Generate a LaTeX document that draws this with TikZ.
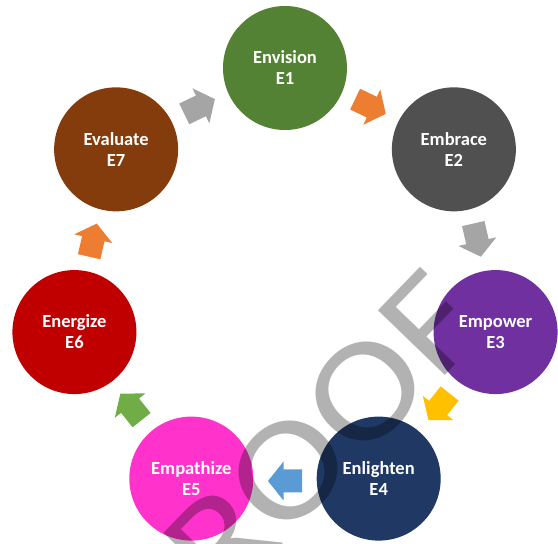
\documentclass[tikz,border=0pt]{standalone}
\usepackage{fontspec}
\setmainfont{Carlito}
\definecolor{cEa}{HTML}{548235}
\definecolor{cEb}{HTML}{505050}
\definecolor{cEc}{HTML}{7030A0}
\definecolor{cEd}{HTML}{1F3864}
\definecolor{cEe}{HTML}{FF33CC}
\definecolor{cEf}{HTML}{C00000}
\definecolor{cEg}{HTML}{843C0C}
\definecolor{aGray}{HTML}{A5A5A5}
\definecolor{aOrange}{HTML}{ED7D31}
\definecolor{aGold}{HTML}{FFC000}
\definecolor{aBlue}{HTML}{5B9BD5}
\definecolor{aGreen}{HTML}{70AD47}
\begin{document}
\begin{tikzpicture}[x=1pt,y=1pt,
  stage/.style={circle, minimum size=124pt, inner sep=0pt, text=white, align=center,
    font=\bfseries\fontsize{18.5}{21}\selectfont},
  barrow/.pic={\fill[#1] (-17,-11.5) -- (1.5,-11.5) -- (1.5,-19.5) -- (17,0) -- (1.5,19.5) -- (1.5,11.5) -- (-17,11.5) -- cycle;}]
\useasboundingbox (0,0) rectangle (558,544);
\clip (0,0) rectangle (558,544);
\coordinate (c) at (285,260);
% stages
\node[stage, fill=cEa] (e1) at ([shift={(90:216)}]c) {Envision\\E1};
\node[stage, fill=cEb] (e2) at ([shift={(38.57:216)}]c) {Embrace\\E2};
\node[stage, fill=cEc] (e3) at ([shift={(-12.86:216)}]c) {Empower\\E3};
\node[stage, fill=cEd] (e4) at ([shift={(-64.29:216)}]c) {Enlighten\\E4};
\node[stage, fill=cEe] (e5) at ([shift={(-115.71:216)}]c) {Empathize\\E5};
\node[stage, fill=cEf] (e6) at ([shift={(-167.14:216)}]c) {Energize\\E6};
\node[stage, fill=cEg] (e7) at ([shift={(141.43:216)}]c) {Evaluate\\E7};
% block arrows (clockwise)
\pic[rotate=-25.71] at ([shift={(64.29:197)}]c) {barrow=aOrange};
\pic[rotate=-77.14] at ([shift={(12.86:197)}]c) {barrow=aGray};
\pic[rotate=-128.57] at ([shift={(-38.57:197)}]c) {barrow=aGold};
\pic[rotate=180] at ([shift={(-90:197)}]c) {barrow=aBlue};
\pic[rotate=128.57] at ([shift={(-141.43:197)}]c) {barrow=aGreen};
\pic[rotate=77.14] at ([shift={(167.14:197)}]c) {barrow=aOrange};
\pic[rotate=25.71] at ([shift={(115.71:197)}]c) {barrow=aGray};
% watermark
\node[rotate=46, anchor=base west, inner sep=0pt, text=black, text opacity=0.3,
  font=\fontsize{145}{145}\selectfont] (wm) at (162,-125) {\scalebox{1.15}[1]{PROOF}};
\end{tikzpicture}
\end{document}
